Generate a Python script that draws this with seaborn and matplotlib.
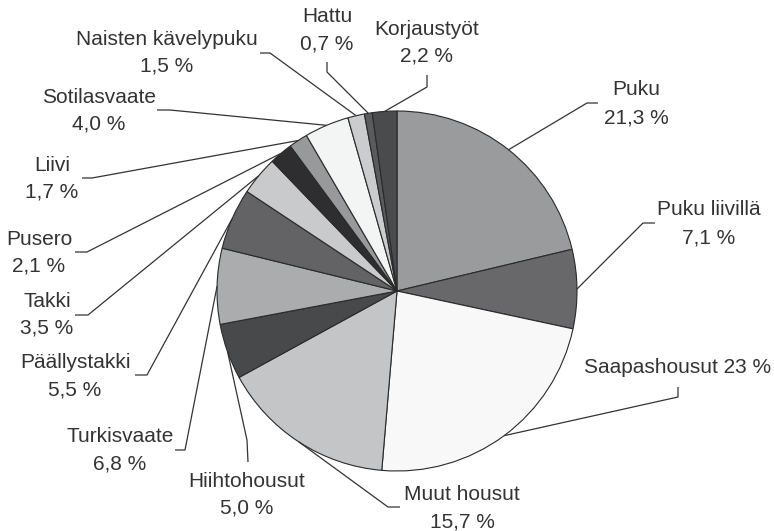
import matplotlib
matplotlib.use("Agg")
import matplotlib.pyplot as plt
import seaborn as sns
import numpy as np

# ---- data ----
categories = ["Puku", "Puku liivillä", "Saapashousut", "Muut housut", "Hiihtohousut",
              "Turkisvaate", "Päällystakki", "Takki", "Pusero", "Liivi",
              "Sotilasvaate", "Naisten kävelypuku", "Hattu", "Korjaustyöt"]
shares = [21.3, 7.1, 23.0, 15.7, 5.0, 6.8, 5.5, 3.5, 2.1, 1.7, 4.0, 1.5, 0.7, 2.2]
value_labels = ["21,3 %", "7,1 %", "23 %", "15,7 %", "5,0 %", "6,8 %", "5,5 %",
                "3,5 %", "2,1 %", "1,7 %", "4,0 %", "1,5 %", "0,7 %", "2,2 %"]

# ---- style ----
colors = ["#9a9b9d", "#68686a", "#f8f8f8", "#c4c5c7", "#48494b", "#abacae", "#636365",
          "#c9cacc", "#2e2e30", "#98999b", "#f3f4f4", "#cbcccd", "#5a5b5d", "#4a4b4d"]

# layout in pixel coordinates: text centre x, name baseline, value baseline,
# leader start, leader elbow
layout = {
    "Puku":               (636, 95, 123, (598, 103), (587, 103)),
    "Puku liivillä":      (709, 215, 243, (655, 223), (643, 223)),
    "Saapashousut":       (678, 373, None, (678, 387), (678, 397)),
    "Muut housut":        (462, 500, 527, (400, 507), (388, 507)),
    "Hiihtohousut":       (247, 487, 513, (248, 462), (247, 440)),
    "Turkisvaate":        (120, 442, 470, (175, 450), (185, 450)),
    "Päällystakki":       (75, 368, 396, (135, 375), (147, 375)),
    "Takki":              (47, 307, 334, (75, 315), (88, 315)),
    "Pusero":             (39, 245, 272, (75, 252), (87, 252)),
    "Liivi":              (52, 171, 197, (82, 178), (92, 178)),
    "Sotilasvaate":       (99, 103, 130, (157, 110), (170, 110)),
    "Naisten kävelypuku": (167, 45, 71, (260, 53), (270, 53)),
    "Hattu":              (327, 22, 49, (327, 62), (327, 72)),
    "Korjaustyöt":        (427, 35, 62, (427, 75), (427, 87)),
}

W, H = 774, 531
cx, cy, r = 397, 291, 180

sns.set_theme(style="white")
plt.rcParams["font.family"] = ["Liberation Sans", "DejaVu Sans"]

fig = plt.figure(figsize=(W / 100, H / 100), dpi=100)
ax = fig.add_axes([0, 0, 1, 1])

ax.pie(shares, colors=colors, startangle=270, counterclock=True,
       center=(cx, cy), radius=r,
       wedgeprops=dict(edgecolor="#2a2a2a", linewidth=0.8))

ax.set_xlim(0, W)
ax.set_ylim(H, 0)
ax.set_aspect("equal")
ax.axis("off")

total = sum(shares)
cum = np.cumsum(shares)
txt_color = "#333333"
for cat, val, s, c in zip(categories, value_labels, shares, cum):
    mid = (c - s / 2) / total
    theta = np.deg2rad(270 + mid * 360)
    px, py = cx + r * np.cos(theta), cy + r * np.sin(theta)
    tx, yb1, yb2, start, elbow = layout[cat]
    ax.plot([start[0], elbow[0], px], [start[1], elbow[1], py],
            color="#333333", lw=0.9, solid_capstyle="butt", zorder=3)
    if yb2 is None:
        ax.text(tx, yb1, f"{cat} {val}", ha="center", va="baseline",
                fontsize=15, color=txt_color)
    else:
        ax.text(tx, yb1, cat, ha="center", va="baseline", fontsize=15, color=txt_color)
        ax.text(tx, yb2, val, ha="center", va="baseline", fontsize=15, color=txt_color)

fig.savefig("out.png", dpi=100, facecolor="white")
